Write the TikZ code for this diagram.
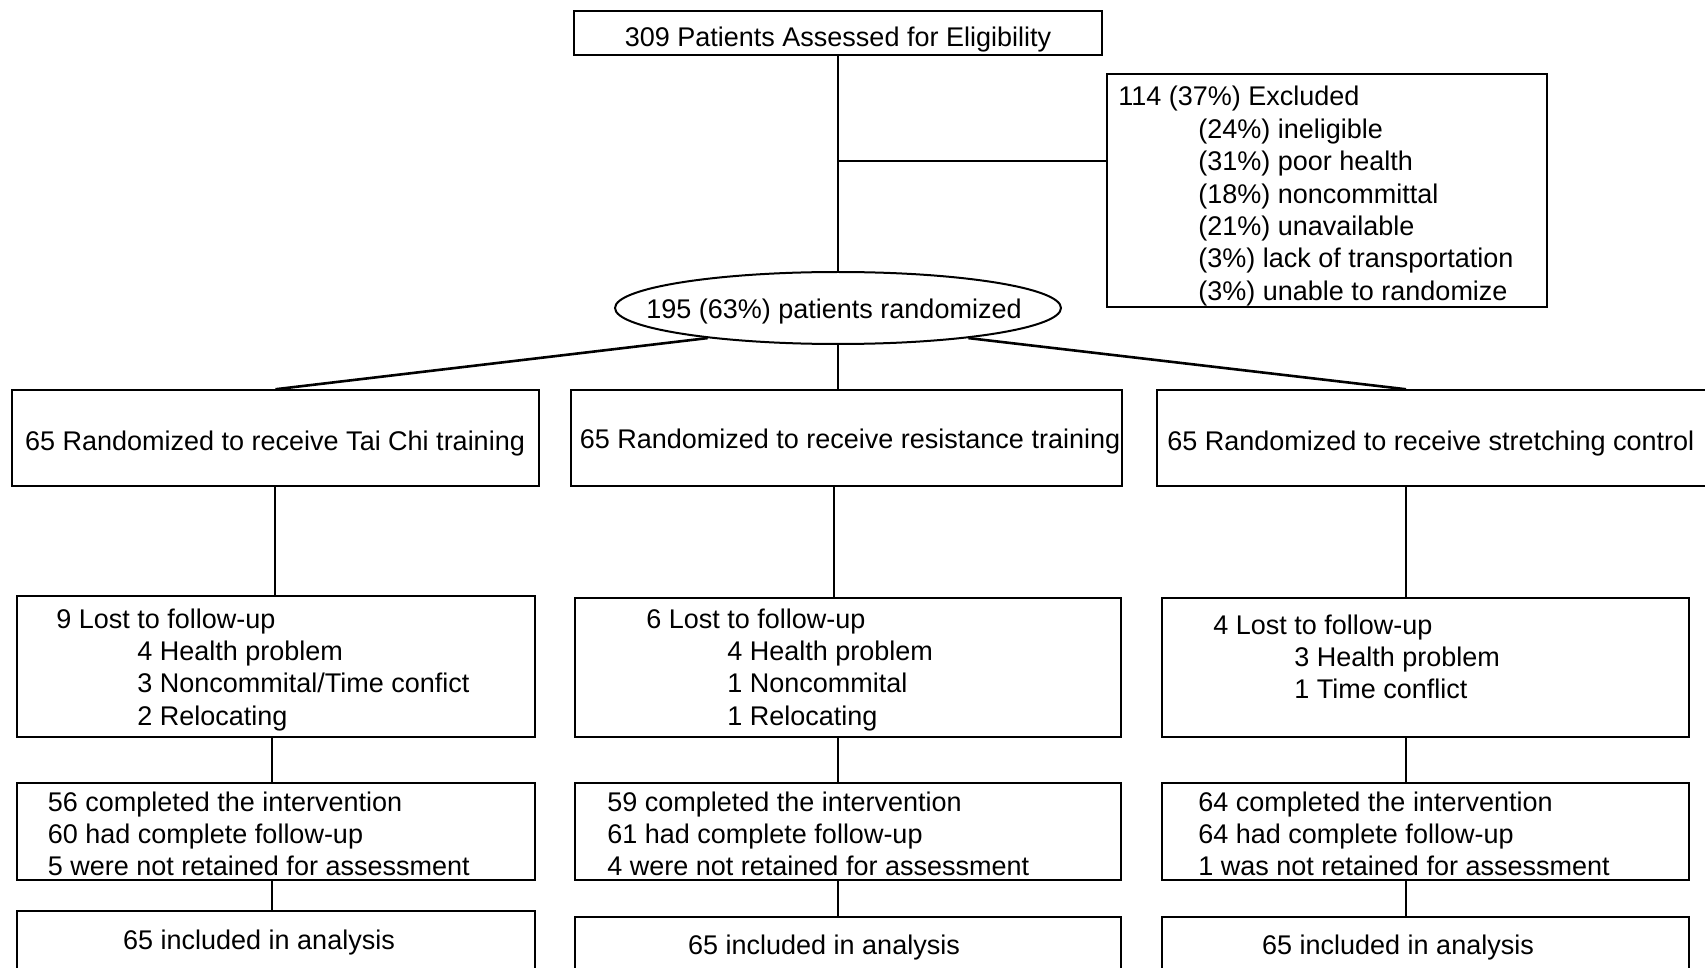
\documentclass[tikz,border=0pt]{standalone}
\usepackage{fontspec}
\setmainfont{Liberation Sans}
\usetikzlibrary{shapes.geometric,calc}
\begin{document}
\begin{tikzpicture}[x=0.5pt,y=-0.5pt,
  box/.style n args={2}{draw,line width=0.75pt,inner sep=0pt,minimum width=#1*0.5pt,minimum height=#2*0.5pt},
  conn/.style={line width=1.3pt},
  txt/.style={inner sep=0pt,anchor=base west,font=\fontsize{13.5pt}{16.2pt}\selectfont},
  ctxt/.style={inner sep=0pt,anchor=base,font=\fontsize{13.5pt}{16.2pt}\selectfont}]
\useasboundingbox (0,0) rectangle (1705,968);
% top
\node[box={528}{44}] (top) at (838,33) {};
\node[ctxt] (topT) at (838,46.5) {309 Patients Assessed for Eligibility};
\node[draw,ellipse,line width=1pt,inner sep=0pt,minimum width=223pt,minimum height=36pt] (ell) at (838,308) {};
\node[ctxt] (ellT) at (834,318.5) {195 (63\%) patients randomized};
% excluded
\node[box={440}{233}] (exc) at (1327,190.5) {};
\node[txt] (e0) at (1118,106) {114 (37\%) Excluded};
\node[txt] (e1) at (1198,138.4) {(24\%) ineligible};
\node[txt] (e2) at (1198,170.8) {(31\%) poor health};
\node[txt] (e3) at (1198,203.2) {(18\%) noncommittal};
\node[txt] (e4) at (1198,235.6) {(21\%) unavailable};
\node[txt] (e5) at (1198,268) {(3\%) lack of transportation};
\node[txt] (e6) at (1198,300.4) {(3\%) unable to randomize};
% level 2
\node[box={527}{96}] (a2) at (275.5,438) {};
\node[ctxt] (a2T) at (275,450.5) {65 Randomized to receive Tai Chi training};
\node[box={551}{96}] (b2) at (846.5,438) {};
\node[ctxt] (b2T) at (850,448.5) {65 Randomized to receive resistance training};
\node[box={551}{96}] (c2) at (1432.5,438) {};
\node[txt] (c2T) at (1167,450.5) {65 Randomized to receive stretching control};
% level 3
\node[box={518}{141}] (a3) at (276,666.5) {};
\node[txt] (a3a) at (56,628) {9 Lost to follow-up};
\node[txt] (a3b) at (137,660.4) {4 Health problem};
\node[txt] (a3c) at (137,692.8) {3 Noncommital/Time confict};
\node[txt] (a3d) at (137,725.2) {2 Relocating};
\node[box={546}{139}] (b3) at (848,667.5) {};
\node[txt] (b3a) at (646,628) {6 Lost to follow-up};
\node[txt] (b3b) at (727,660.4) {4 Health problem};
\node[txt] (b3c) at (727,692.8) {1 Noncommital};
\node[txt] (b3d) at (727,725.2) {1 Relocating};
\node[box={527}{139}] (c3) at (1425.5,667.5) {};
\node[txt] (c3a) at (1213,634) {4 Lost to follow-up};
\node[txt] (c3b) at (1294,666.4) {3 Health problem};
\node[txt] (c3c) at (1294,698.8) {1 Time conflict};
% level 4
\node[box={518}{97}] (a4) at (276,831.5) {};
\node[txt] (a4a) at (47.5,811) {56 completed the intervention};
\node[txt] (a4b) at (47.5,843.4) {60 had complete follow-up};
\node[txt] (a4c) at (47.5,875.8) {5 were not retained for assessment};
\node[box={546}{97}] (b4) at (848,831.5) {};
\node[txt] (b4a) at (607,811) {59 completed the intervention};
\node[txt] (b4b) at (607,843.4) {61 had complete follow-up};
\node[txt] (b4c) at (607,875.8) {4 were not retained for assessment};
\node[box={527}{97}] (c4) at (1425.5,831.5) {};
\node[txt] (c4a) at (1198,811) {64 completed the intervention};
\node[txt] (c4b) at (1198,843.4) {64 had complete follow-up};
\node[txt] (c4c) at (1198,875.8) {1 was not retained for assessment};
% level 5
\node[box={518}{89}] (a5) at (276,955.5) {};
\node[ctxt] (a5T) at (259,949) {65 included in analysis};
\node[box={546}{83}] (b5) at (848,958.5) {};
\node[ctxt] (b5T) at (824,954) {65 included in analysis};
\node[box={527}{83}] (c5) at (1425.5,958.5) {};
\node[ctxt] (c5T) at (1398,954) {65 included in analysis};
% connector columns
\coordinate (br) at (838,161);
\coordinate (colA1) at (275,0);
\coordinate (colA2) at (272,0);
\coordinate (colB1) at (834,0);
\coordinate (colB2) at (838,0);
\coordinate (colC) at (1406,0);
% connectors
\draw[conn] (top) -- (ell);
\draw[conn] (br) -- (br -| exc.west);
\draw[conn] (ell.193) -- (a2.north);
\draw[conn] (ell.south) -- (ell.south |- b2.north);
\draw[conn] (ell.-13) -- (colC |- c2.north);
\draw[conn] (colA1 |- a2.south) -- (colA1 |- a3.north);
\draw[conn] (colB1 |- b2.south) -- (colB1 |- b3.north);
\draw[conn] (colC |- c2.south) -- (colC |- c3.north);
\draw[conn] (colA2 |- a3.south) -- (colA2 |- a4.north);
\draw[conn] (colB2 |- b3.south) -- (colB2 |- b4.north);
\draw[conn] (colC |- c3.south) -- (colC |- c4.north);
\draw[conn] (colA2 |- a4.south) -- (colA2 |- a5.north);
\draw[conn] (colB2 |- b4.south) -- (colB2 |- b5.north);
\draw[conn] (colC |- c4.south) -- (colC |- c5.north);
\end{tikzpicture}
\end{document}
